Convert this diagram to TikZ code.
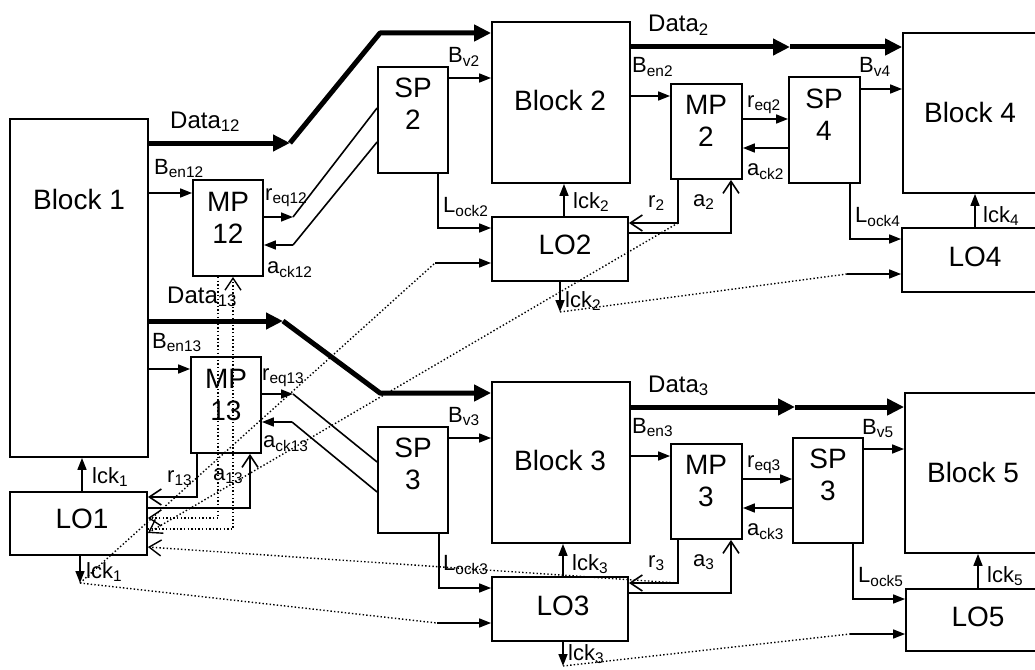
\documentclass[tikz,border=0pt]{standalone}
\usepackage{fontspec}
\setmainfont{Liberation Sans}
\usetikzlibrary{arrows.meta}
\newcommand\sbs[1]{\textsubscript{#1}}
\begin{document}
\begin{tikzpicture}[x=1pt,y=-1pt,
 box/.style={draw, line width=1.8pt, inner sep=0pt},
 btxt/.style={font=\fontsize{28}{32}\selectfont, align=center, inner sep=0pt},
 lab/.style={font=\fontsize{22}{26}\selectfont, anchor=base west, inner sep=0pt},
 dlab/.style={font=\fontsize{24}{28}\selectfont, anchor=base west, inner sep=0pt},
 sig/.style={line width=1.6pt, -{Triangle[length=12pt,width=9pt]}},
 wire/.style={line width=1.6pt},
 hs/.style={line width=1.6pt, -{Straight Barb[length=12pt,width=16pt]}},
 dotl/.style={line width=1.4pt, dash pattern=on 1.4pt off 2.2pt},
 dhs/.style={dotl, -{Straight Barb[length=12pt,width=16pt]}},
 data/.style={line width=5pt, line join=round, -{Triangle[length=17pt,width=16pt]}},
]
\useasboundingbox (0,0) rectangle (1035,669);
\clip (0,0) rectangle (1035,669);
% boxes
\node[box, minimum width=138pt, minimum height=338pt] (b1) at (79,288) {};
\node[box, minimum width=70pt, minimum height=96pt] (mp12) at (228,228) {};
\node[box, minimum width=70pt, minimum height=96pt] (mp13) at (226,405) {};
\node[box, minimum width=137pt, minimum height=63pt] (lo1) at (78.5,523.5) {};
\node[box, minimum width=70pt, minimum height=106pt] (sp2) at (413,120) {};
\node[box, minimum width=70pt, minimum height=106pt] (sp3) at (413,480) {};
\node[box, minimum width=138pt, minimum height=161pt] (b2) at (561,102.5) {};
\node[box, minimum width=138pt, minimum height=161pt] (b3) at (561,462.5) {};
\node[box, minimum width=136pt, minimum height=64pt] (lo2) at (560,249) {};
\node[box, minimum width=136pt, minimum height=64pt] (lo3) at (560,609) {};
\node[box, minimum width=71pt, minimum height=95pt] (mp2) at (706.5,131.5) {};
\node[box, minimum width=71pt, minimum height=95pt] (mp3) at (706.5,491.5) {};
\node[box, minimum width=71pt, minimum height=106pt] (sp4) at (824.5,130) {};
\node[box, minimum width=70pt, minimum height=105pt] (sp5) at (828,490.5) {};
\node[box, minimum width=137pt, minimum height=160pt] (b4) at (971.5,113) {};
\node[box, minimum width=137pt, minimum height=160pt] (b5) at (973.5,473) {};
\node[box, minimum width=146pt, minimum height=64pt] (lo4) at (975,260) {};
\node[box, minimum width=144pt, minimum height=62pt] (lo5) at (978,620) {};
% box texts
\node[btxt] (tb1) at (79,199) {Block 1};
\node[btxt] (tmp12) at (228,218) {MP\\12};
\node[btxt] (tmp13) at (226,395) {MP\\13};
\node[btxt] (tlo1) at (82,519) {LO1};
\node[btxt] (tsp2) at (413,104) {SP\\2};
\node[btxt] (tsp3) at (413,464) {SP\\3};
\node[btxt] (tb2) at (560,100) {Block 2};
\node[btxt] (tb3) at (560,460) {Block 3};
\node[btxt] (tlo2) at (565,245) {LO2};
\node[btxt] (tlo3) at (563,606) {LO3};
\node[btxt] (tmp2) at (706,121) {MP\\2};
\node[btxt] (tmp3) at (706,481) {MP\\3};
\node[btxt] (tsp4) at (824,115) {SP\\4};
\node[btxt] (tsp5) at (828,475) {SP\\3};
\node[btxt] (tb4) at (970,112) {Block 4};
\node[btxt] (tb5) at (973,472) {Block 5};
\node[btxt] (tlo4) at (975,257) {LO4};
\node[btxt] (tlo5) at (978,617) {LO5};
% labels
\node[dlab] (tD12) at (170,128) {Data\sbs{12}};
\node[lab] (tBen12) at (154,174) {B\sbs{en12}};
\node[lab] (treq12) at (265,200) {r\sbs{eq12}};
\node[lab] (tack12) at (267,273) {a\sbs{ck12}};
\node[dlab] (tD13) at (167,303) {Data\sbs{13}};
\node[lab] (tBen13) at (152,348) {B\sbs{en13}};
\node[lab] (treq13) at (262,380) {r\sbs{eq13}};
\node[lab] (tack13) at (263,447) {a\sbs{ck13}};
\node[lab] (tlck1u) at (92,483) {lck\sbs{1}};
\node[lab] (tr13) at (167,482) {r\sbs{13}};
\node[lab] (ta13) at (213,480) {a\sbs{13}};
\node[lab] (tlck1d) at (86,578) {lck\sbs{1}};
\node[lab] (tBv2) at (448,63) {B\sbs{v2}};
\node[dlab] (tD2) at (648,32) {Data\sbs{2}};
\node[lab] (tBen2) at (632,73) {B\sbs{en2}};
\node[lab] (treq2) at (747,107) {r\sbs{eq2}};
\node[lab] (tack2) at (747,175) {a\sbs{ck2}};
\node[lab] (tBv4) at (859,73) {B\sbs{v4}};
\node[lab] (tLock2) at (443,212) {L\sbs{ock2}};
\node[lab] (tlck2u) at (573,208) {lck\sbs{2}};
\node[lab] (tlck2d) at (565,307) {lck\sbs{2}};
\node[lab] (tr2) at (648,207) {r\sbs{2}};
\node[lab] (ta2) at (693,206) {a\sbs{2}};
\node[lab] (tLock4) at (855,222) {L\sbs{ock4}};
\node[lab] (tlck4) at (983,222) {lck\sbs{4}};
\node[lab] (tBv3) at (448,422) {B\sbs{v3}};
\node[dlab] (tD3) at (648,392) {Data\sbs{3}};
\node[lab] (tBen3) at (632,433) {B\sbs{en3}};
\node[lab] (treq3) at (747,467) {r\sbs{eq3}};
\node[lab] (tack3) at (747,535) {a\sbs{ck3}};
\node[lab] (tBv5) at (862,434) {B\sbs{v5}};
\node[lab] (tLock3) at (443,570) {L\sbs{ock3}};
\node[lab] (tlck3u) at (572,570) {lck\sbs{3}};
\node[lab] (tlck3d) at (568,660) {lck\sbs{3}};
\node[lab] (tr3) at (648,567) {r\sbs{3}};
\node[lab] (ta3) at (693,566) {a\sbs{3}};
\node[lab] (tLock5) at (858,582) {L\sbs{ock5}};
\node[lab] (tlck5) at (987,582) {lck\sbs{5}};
% coordinates
\coordinate (k12a) at (290,143);
\coordinate (k12b) at (380,33);
\coordinate (k13a) at (283,321);
\coordinate (k13b) at (380,393);
\coordinate (k2) at (790,47);
\coordinate (k3) at (795,407);
\coordinate (q12) at (293,217);
\coordinate (w12) at (293,245);
\coordinate (q13) at (293,394);
\coordinate (w13) at (292,422);
\coordinate (ck1) at (80,583);
\coordinate (ck2) at (560,312);
\coordinate (ck3) at (563,666);
\coordinate (in2) at (435,263);
\coordinate (in3) at (437,623);
\coordinate (in4) at (847,274);
\coordinate (in5) at (850,634);
\coordinate (r2c) at (678,223);
\coordinate (r3c) at (678,583);
% data buses
\draw[data] (b1.east |- k12a) -- (k12a);
\draw[data] (k12a) -- (k12b) -- (b2.west |- k12b);
\draw[data] (b1.east |- k13a) -- (k13a);
\draw[data] (k13a) -- (k13b) -- (b3.west |- k13b);
\draw[data] (b2.east |- k2) -- (k2);
\draw[data] (k2) -- (b4.west |- k2);
\draw[data] (b3.east |- k3) -- (k3);
\draw[data] (k3) -- (b5.west |- k3);
% block 1 side
\draw[sig] (b1.east |- 0,193) -- (mp12.west |- 0,193);
\draw[sig] (b1.east |- 0,369) -- (mp13.west |- 0,369);
\draw[sig] (mp12.east |- q12) -- (q12);
\draw[wire] (q12) -- (sp2.west |- 0,108);
\draw[wire] (sp2.west |- 0,142) -- (w12);
\draw[sig] (w12) -- (mp12.east |- w12);
\draw[sig] (mp13.east |- q13) -- (q13);
\draw[wire] (q13) -- (sp3.west |- 0,462);
\draw[wire] (sp3.west |- 0,492) -- (w13);
\draw[sig] (w13) -- (mp13.east |- w13);
\draw[sig] (sp2.east |- 0,78) -- (b2.west |- 0,78);
\draw[sig] (sp3.east |- 0,438) -- (b3.west |- 0,438);
\draw[sig] (lo1.north -| 82,0) -- (b1.south -| 82,0);
\draw[sig] (lo1.south -| ck1) -- (ck1);
\draw[hs] (mp13.south -| 197,0) |- (lo1.east |- 0,497);
\draw[hs] (lo1.east |- 0,508) -| (mp13.south -| 250,0);
\draw[dhs] (mp12.south -| 218,0) |- (lo1.east |- 0,518);
\draw[dhs] (lo1.east |- 0,529) -| (mp12.south -| 233,0);
\draw[dhs] (r2c) -- (lo1.east |- 0,533);
\draw[dhs] (r3c) -- (lo1.east |- 0,547);
\draw[dotl] (ck1) -- (in2);
\draw[dotl] (ck1) -- (in3);
\draw[sig] (in2) -- (lo2.west |- in2);
\draw[sig] (in3) -- (lo3.west |- in3);
% block 2 / 3 side
\draw[sig] (sp2.south -| 438,0) |- (lo2.west |- 0,228);
\draw[sig] (lo2.north -| 564,0) -- (b2.south -| 564,0);
\draw[sig] (lo2.south -| ck2) -- (ck2);
\draw[dotl] (ck2) -- (in4);
\draw[sig] (in4) -- (lo4.west |- in4);
\draw[sig] (sp3.south -| 439,0) |- (lo3.west |- 0,588);
\draw[sig] (lo3.north -| 563,0) -- (b3.south -| 563,0);
\draw[sig] (lo3.south -| ck3) -- (ck3);
\draw[dotl] (ck3) -- (in5);
\draw[sig] (in5) -- (lo5.west |- in5);
\draw[sig] (b2.east |- 0,96) -- (mp2.west |- 0,96);
\draw[sig] (mp2.east |- 0,119) -- (sp4.west |- 0,119);
\draw[sig] (sp4.west |- 0,148) -- (mp2.east |- 0,148);
\draw[sig] (sp4.east |- 0,89) -- (b4.west |- 0,89);
\draw[sig] (sp4.south -| 850,0) |- (lo4.west |- 0,239);
\draw[sig] (lo4.north -| 975,0) -- (b4.south -| 975,0);
\draw[hs] (mp2.south -| r2c) |- (lo2.east |- r2c);
\draw[hs] (lo2.east |- 0,233) -| (mp2.south -| 731,0);
\draw[sig] (b3.east |- 0,456) -- (mp3.west |- 0,456);
\draw[sig] (mp3.east |- 0,479) -- (sp5.west |- 0,479);
\draw[sig] (sp5.west |- 0,508) -- (mp3.east |- 0,508);
\draw[sig] (sp5.east |- 0,449) -- (b5.west |- 0,449);
\draw[sig] (sp5.south -| 853,0) |- (lo5.west |- 0,599);
\draw[sig] (lo5.north -| 978,0) -- (b5.south -| 978,0);
\draw[hs] (mp3.south -| r3c) |- (lo3.east |- r3c);
\draw[hs] (lo3.east |- 0,593) -| (mp3.south -| 731,0);
\end{tikzpicture}
\end{document}
